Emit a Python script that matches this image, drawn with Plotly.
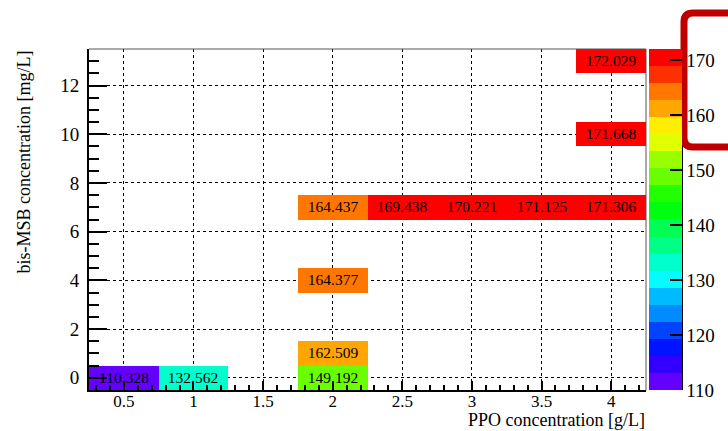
import colorsys
import plotly.graph_objects as go

# ---- data (bin centres and contents) ----
ppo_bins = [0.5, 1.0, 1.5, 2.0, 2.5, 3.0, 3.5, 4.0]
bismsb_bins = list(range(14))

ppo = [0.5, 1.0, 2.0, 2.0, 2.0, 2.0, 2.5, 3.0, 3.5, 4.0, 4.0, 4.0]
bismsb = [0, 0, 0, 1, 4, 7, 7, 7, 7, 7, 10, 13]
light_yield = [110.328, 132.562, 149.192, 162.509, 164.377, 164.437,
               169.438, 170.221, 171.125, 171.306, 171.668, 172.029]

cbar_ticks = [110, 120, 130, 140, 150, 160, 170]
zmin, zmax = 110, 172.029

# ---- build the 2D table ----
z = [[None] * len(ppo_bins) for _ in bismsb_bins]
txt = [[""] * len(ppo_bins) for _ in bismsb_bins]
for px, by, v in zip(ppo, bismsb, light_yield):
    xi = ppo_bins.index(px)
    yi = bismsb_bins.index(by)
    z[yi][xi] = v
    txt[yi][xi] = f"{v:.3f}"

# ---- ROOT-like "pretty" palette, 20 contours ----
ncont, ncol = 20, 50
scale = []
for j in range(ncont):
    k = int((j + 0.99) * ncol / ncont)
    hue = 280 - (k + 1) * (280 / ncol)
    r, g, b = colorsys.hls_to_rgb(hue / 360.0, 0.5, 1.0)
    c = f"rgb({int(round(r*255))},{int(round(g*255))},{int(round(b*255))})"
    scale.append([j / ncont, c])
    scale.append([(j + 1) / ncont, c])

FONT = "Liberation Serif, Times New Roman, serif"
W, H = 728, 431
L, R, T, B = 89, 646, 49, 390
pw, ph = R - L, B - T


def px2x(p):
    return (p - L) / pw


def px2y(p):
    return (B - p) / ph


fig = go.Figure(go.Heatmap(
    x=ppo_bins, y=bismsb_bins, z=z, text=txt, texttemplate="%{text}",
    textfont=dict(family=FONT, size=15.5, color="black"),
    colorscale=scale, zmin=zmin, zmax=zmax, hoverongaps=False,
    colorbar=dict(
        thickness=33, thicknessmode="pixels", len=1, lenmode="fraction",
        x=px2x(649), xanchor="left", xpad=0, y=0, yanchor="bottom", ypad=0,
        tickvals=cbar_ticks, ticks="inside", ticklen=12, tickwidth=2,
        tickcolor="black", tickfont=dict(family=FONT, size=19, color="black"),
        outlinewidth=0,
    ),
))

axis_common = dict(
    ticks="inside", tickcolor="black", tickwidth=1.5, showline=True,
    linecolor="black", linewidth=2, showgrid=True, gridcolor="black",
    gridwidth=1, griddash="dot", zeroline=False, layer="above traces",
)

fig.update_xaxes(range=[0.25, 4.25], tick0=0.5, dtick=0.5, ticklen=9,
                 ticklabelstandoff=-5,
                 tickfont=dict(family=FONT, size=17, color="black"),
                 minor=dict(ticks="inside", dtick=0.1, tick0=0, ticklen=5,
                            tickcolor="black", tickwidth=1.5, showgrid=False),
                 **axis_common)
fig.update_yaxes(range=[-0.5, 13.5], tick0=0, dtick=2, ticklen=18,
                 ticklabelstandoff=4,
                 tickfont=dict(family=FONT, size=19, color="black"),
                 minor=dict(ticks="inside", dtick=0.5, tick0=0, ticklen=10,
                            tickcolor="black", tickwidth=1.5, showgrid=False),
                 **axis_common)

shapes = [
    dict(type="line", xref="paper", yref="paper", x0=0, x1=1, y0=1, y1=1,
         line=dict(color="#555555", width=1)),
    dict(type="line", xref="paper", yref="paper", x0=1, x1=1, y0=0, y1=1,
         line=dict(color="#555555", width=1)),
    dict(type="line", xref="paper", yref="paper", x0=px2x(682), x1=px2x(682),
         y0=0, y1=1, line=dict(color="black", width=2)),
]

# red highlight box (rounded corners, open to the right)
xl, xr = px2x(684), px2x(760)
yt, yb = px2y(13), px2y(147)
rx, ry = 9 / pw, 9 / ph
path = (f"M {xr},{yt} L {xl+rx},{yt} Q {xl},{yt} {xl},{yt-ry} "
        f"L {xl},{yb+ry} Q {xl},{yb} {xl+rx},{yb} L {xr},{yb}")
shapes.append(dict(type="path", xref="paper", yref="paper", path=path,
                   line=dict(color="#C00000", width=7), layer="above"))

fig.update_layout(
    width=W, height=H,
    margin=dict(l=L, r=W - R, t=T, b=H - B, pad=0, autoexpand=False),
    plot_bgcolor="white", paper_bgcolor="white",
    shapes=shapes,
    annotations=[
        dict(text="PPO concentration [g/L]", xref="paper", yref="paper",
             x=1, xanchor="right", y=px2y(431), yanchor="bottom",
             borderpad=0,
             showarrow=False, font=dict(family=FONT, size=18, color="black")),
        dict(text="bis-MSB concentration [mg/L]", xref="paper", yref="paper",
             x=px2x(23), xanchor="center", y=px2y(49), yanchor="top",
             textangle=-90,
             showarrow=False, font=dict(family=FONT, size=18, color="black")),
    ],
)

fig.write_html("out.html",
               config={"displayModeBar": False},
               post_script="document.body.style.margin='0';"
                           "document.body.style.overflow='hidden';")
